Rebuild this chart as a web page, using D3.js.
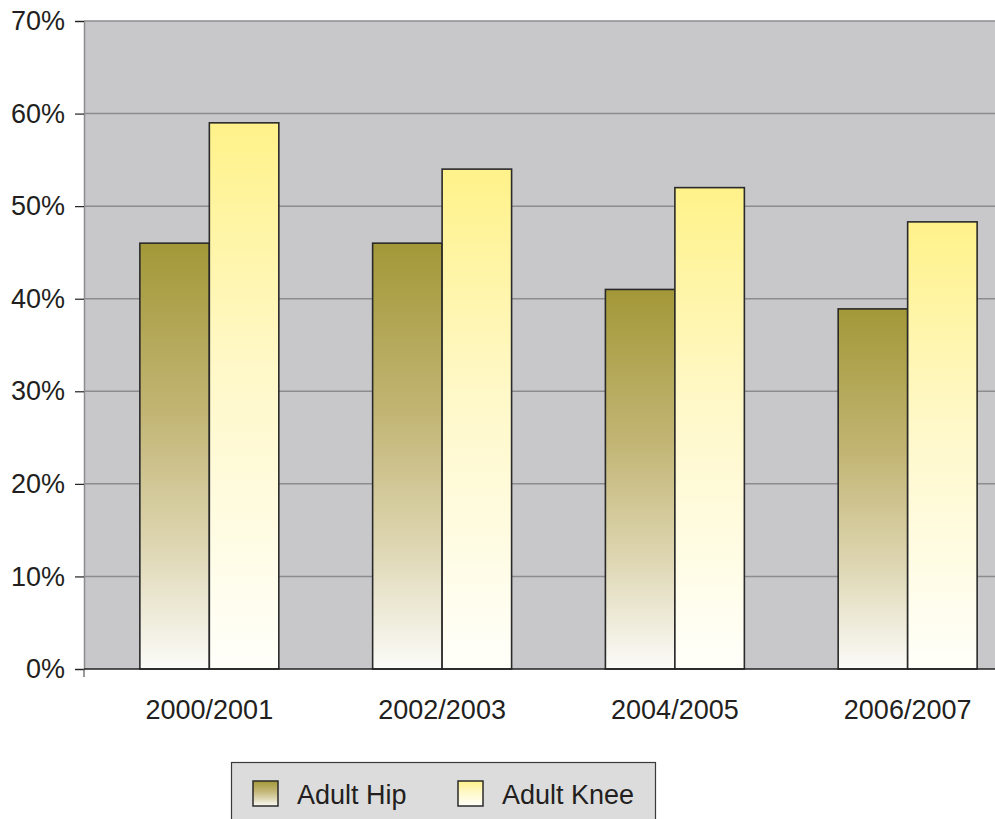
<!DOCTYPE html>
<html>
<head>
<meta charset="utf-8">
<script src="https://cdn.jsdelivr.net/npm/d3@7/dist/d3.min.js"></script>
<style>
  html, body { margin: 0; padding: 0; background: #ffffff; }
  svg { display: block; }
  text { font-family: "Liberation Sans", Arial, Helvetica, sans-serif; fill: #231f20; }
</style>
</head>
<body>
<svg id="chart" width="995" height="819"></svg>
<script>
const categories = ["2000/2001", "2002/2003", "2004/2005", "2006/2007"];
const seriesNames = ["Adult Hip", "Adult Knee"];
const hipValues = [46, 46, 41, 38.9];
const kneeValues = [59, 54, 52, 48.3];
const yTicks = [0, 10, 20, 30, 40, 50, 60, 70];

const svg = d3.select("#chart");
const plot = { left: 84, top: 21, right: 995, bottom: 669 };

// gradients
const defs = svg.append("defs");
function grad(id, stops) {
  const g = defs.append("linearGradient").attr("id", id)
    .attr("x1", 0).attr("y1", 0).attr("x2", 0).attr("y2", 1);
  stops.forEach(s => g.append("stop").attr("offset", s[0]).attr("stop-color", s[1]));
}
grad("gHip", [[0, "#a39838"], [0.4, "#c2b574"], [0.7, "#ddd5b0"], [1, "#fbfbf8"]]);
grad("gKnee", [[0, "#fff28a"], [0.45, "#fff8c8"], [1, "#fffffa"]]);

const y = d3.scaleLinear().domain([0, 70]).range([plot.bottom, plot.top]);
const x0 = d3.scaleBand().domain(categories).range([plot.left, 1033])
  .paddingInner(0.403).paddingOuter(0.24);
const x1 = d3.scaleBand().domain(seriesNames).range([0, x0.bandwidth()]);

// plot background
svg.append("rect")
  .attr("x", plot.left).attr("y", plot.top)
  .attr("width", plot.right - plot.left).attr("height", plot.bottom - plot.top)
  .attr("fill", "#c8c8ca");

// gridlines
svg.append("g").selectAll("line").data(yTicks.filter(t => t > 0)).join("line")
  .attr("x1", plot.left).attr("x2", plot.right)
  .attr("y1", d => y(d)).attr("y2", d => y(d))
  .attr("stroke", "#8c8c8e").attr("stroke-width", 1.5);

// y axis
const yAxis = d3.axisLeft(y).tickValues(yTicks).tickFormat(d => d + "%")
  .tickSize(9).tickPadding(10);
const yg = svg.append("g").attr("transform", `translate(${plot.left},0)`).call(yAxis);
yg.select(".domain").attr("stroke", "#8c8c8e").attr("stroke-width", 1.5);
yg.selectAll(".tick line").attr("stroke", "#231f20").attr("stroke-width", 1.2);
yg.selectAll(".tick text").attr("font-size", 27).attr("fill", "#231f20")
  .attr("font-family", "'Liberation Sans', Arial, sans-serif");

// bars
const data = categories.map((c, i) => ({ cat: c, vals: [
  { key: seriesNames[0], v: hipValues[i] },
  { key: seriesNames[1], v: kneeValues[i] }
]}));
const fills = { "Adult Hip": "url(#gHip)", "Adult Knee": "url(#gKnee)" };

svg.append("g").selectAll("g").data(data).join("g")
  .attr("transform", d => `translate(${x0(d.cat)},0)`)
  .selectAll("rect").data(d => d.vals).join("rect")
  .attr("x", d => x1(d.key))
  .attr("y", d => y(d.v))
  .attr("width", x1.bandwidth())
  .attr("height", d => y(0) - y(d.v))
  .attr("fill", d => fills[d.key])
  .attr("stroke", "#2a2a2a").attr("stroke-width", 1.6);

// x axis baseline
svg.append("line").attr("x1", plot.left).attr("x2", plot.right)
  .attr("y1", plot.bottom).attr("y2", plot.bottom)
  .attr("stroke", "#231f20").attr("stroke-width", 1.5);
svg.append("line").attr("x1", plot.left).attr("x2", plot.left)
  .attr("y1", plot.bottom).attr("y2", plot.bottom + 8)
  .attr("stroke", "#555").attr("stroke-width", 1.2);

// category labels
svg.append("g").selectAll("text").data(categories).join("text")
  .attr("x", d => x0(d) + x0.bandwidth() / 2)
  .attr("y", 719)
  .attr("text-anchor", "middle")
  .attr("font-size", 27)
  .text(d => d);

// legend
const lg = svg.append("g");
lg.append("rect").attr("x", 231.5).attr("y", 762.5).attr("width", 424).attr("height", 70)
  .attr("fill", "#dcdcdd").attr("stroke", "#3a3a3a").attr("stroke-width", 1.2);
const legendX = [253, 458];
seriesNames.forEach((s, i) => {
  lg.append("rect").attr("x", legendX[i]).attr("y", 781).attr("width", 25).attr("height", 25)
    .attr("fill", fills[s]).attr("stroke", "#2a2a2a").attr("stroke-width", 1.5);
  lg.append("text").attr("x", legendX[i] + 44).attr("y", 804)
    .attr("font-size", 27).text(s);
});
</script>
</body>
</html>
